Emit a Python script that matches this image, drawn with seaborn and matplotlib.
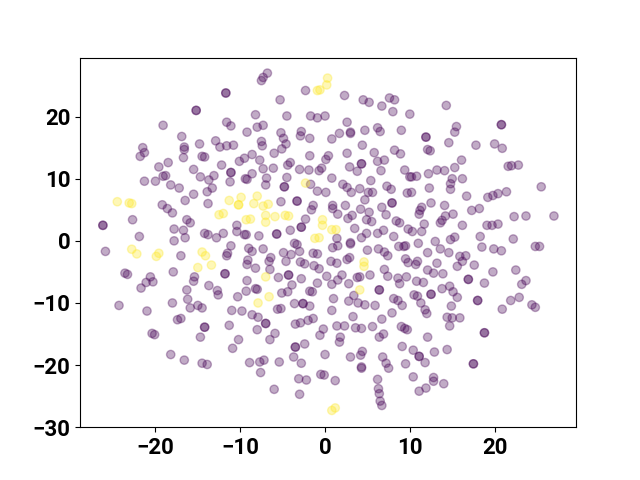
import matplotlib
matplotlib.use("Agg")
import matplotlib.pyplot as plt
import seaborn as sns

# points (t-SNE style embedding, two classes)
purple_pts = [
    (-19.1, 18.6), (-11.6, 19.1), (-11.1, 18.5), (-16.9, 16.8), (-12.9, 16.1), (-14.8, 15.6), (-12.4, 15.1),
    (-11.6, 15.3), (-10.8, 15.4), (-16.6, 15.1), (-16.6, 14.7), (-21.5, 15.0), (-21.3, 14.2), (-21.8, 13.6),
    (-16.7, 13.4), (-14.5, 13.6), (-14.2, 13.5), (-10.1, 12.8), (-12.2, 12.2), (-18.5, 12.6), (-19.6, 11.9),
    (-15.5, 11.5), (-19.1, 10.4), (-18.8, 10.5), (-14.7, 10.3), (-13.1, 10.5), (-13.7, 9.8), (-21.3, 9.6),
    (-20.0, 9.6), (-18.2, 9.0), (-17.2, 8.5), (-11.2, 9.5), (-13.3, 8.5), (-13.9, 7.9), (-15.5, 7.5),
    (-16.5, 6.5), (-13.8, 6.0), (-19.2, 5.8), (-18.6, 5.2), (-18.0, 4.5), (-22.7, 3.4), (-16.3, 3.4),
    (-15.9, 2.9), (-17.8, 1.9), (-16.7, 1.7), (-21.9, 0.7), (-17.8, 0.0), (-16.5, 0.5), (-14.2, 1.2),
    (-13.8, 1.0), (-12.8, 0.5), (-12.0, 1.2), (-10.4, 2.5), (-10.4, 1.5),
    (-6.8, 27.0), (-7.3, 26.3), (-7.5, 25.8), (-2.3, 24.2), (2.3, 23.4), (-5.3, 22.7), (4.5, 22.7), (5.2, 22.3),
    (7.6, 23.0), (8.2, 22.7), (6.7, 21.7), (8.0, 20.8), (-8.2, 20.3), (-4.5, 20.1), (-1.7, 20.1), (-0.9, 19.8),
    (0.0, 20.1), (2.6, 19.1), (10.0, 20.4), (-8.0, 18.3), (-7.3, 18.6), (-9.2, 17.5), (-5.2, 17.4), (-2.8, 17.6),
    (-2.9, 16.9), (3.0, 17.5), (3.0, 17.3), (4.7, 17.8), (6.2, 18.2), (6.5, 17.6), (9.0, 17.8), (1.7, 17.3),
    (0.8, 16.4), (-1.8, 16.5), (-4.9, 16.5), (-7.5, 16.0), (-7.4, 15.3), (-4.6, 15.6), (-5.1, 14.8), (4.4, 15.4),
    (-6.0, 14.1), (-8.6, 13.9), (2.6, 14.1), (5.8, 14.2), (8.2, 14.6), (8.9, 14.0), (-9.5, 13.3), (-7.7, 13.0),
    (-1.8, 13.7), (0.4, 13.7), (0.1, 13.1), (-4.1, 12.6), (-4.4, 12.2), (7.0, 13.0), (6.2, 12.8), (-7.3, 11.6),
    (-6.1, 11.7), (-3.0, 11.5), (-1.9, 11.4), (-0.4, 11.7), (-0.7, 11.3), (2.9, 11.9), (3.8, 11.2), (6.6, 11.3),
    (9.4, 11.4), (-8.6, 10.8), (-9.4, 10.0), (-9.2, 9.9), (-6.9, 10.1), (-4.5, 10.2), (0.8, 10.1), (-7.0, 9.0),
    (5.4, 9.7), (10.0, 10.3), (-1.7, 9.1), (2.1, 9.1), (2.6, 8.6), (3.1, 7.8), (4.1, 8.4), (-0.9, 8.0), (0.1, 7.8),
    (7.3, 8.8), (7.8, 8.3), (5.1, 7.8), (5.6, 7.8), (9.7, 7.7), (4.7, 6.6), (-5.2, 6.3), (-1.4, 5.7), (-1.6, 5.0),
    (0.9, 5.7), (0.9, 5.2), (2.4, 5.7), (6.7, 5.4), (4.2, 5.1), (5.2, 4.6), (1.5, 4.3), (7.2, 4.2), (3.2, 4.1),
    (2.7, 3.6), (-2.3, 3.5), (4.9, 3.4), (5.5, 3.1), (8.4, 3.2), (8.8, 2.9), (9.8, 1.9), (3.5, 2.0), (-4.1, 1.7),
    (-7.8, 0.8), (-9.5, 1.0), (-9.3, 1.0), (4.9, 1.2), (4.3, 0.5), (6.2, 1.2), (6.9, 1.7), (8.1, 0.7), (1.4, 0.4),
    (3.0, -0.3),
    (14.3, 21.8), (15.5, 18.4), (15.3, 17.5), (14.6, 15.8), (17.8, 15.4), (20.0, 15.6), (20.9, 14.9), (12.1, 14.7),
    (12.4, 14.5), (16.1, 13.0), (15.3, 11.8), (13.2, 11.4), (14.1, 11.3), (12.2, 10.8), (10.2, 10.3), (10.8, 10.4),
    (21.6, 12.0), (22.0, 12.1), (22.8, 12.2), (15.0, 10.0), (16.2, 10.0), (14.8, 9.2), (14.8, 8.3), (12.3, 8.5),
    (10.2, 7.8), (25.5, 8.7), (16.7, 7.2), (21.4, 7.9), (20.4, 7.6), (19.8, 7.3), (19.2, 7.0), (12.5, 6.1),
    (14.1, 5.7), (11.4, 5.4), (11.2, 4.9), (11.1, 4.3), (18.2, 5.2), (17.3, 4.9), (15.1, 4.3), (14.2, 4.0),
    (13.8, 3.3), (13.6, 2.9), (11.7, 2.7), (22.3, 3.9), (23.7, 4.0), (27.0, 4.0), (16.2, 2.5), (19.1, 2.5),
    (19.7, 2.5), (20.4, 2.7), (10.3, 1.5), (11.4, 1.5), (15.3, 0.6), (14.8, 0.2), (18.3, 0.7), (22.2, 0.3),
    (13.0, -0.1), (11.0, -0.4),
    (-25.9, -1.7), (-17.0, -2.4), (-11.1, -0.8), (-11.5, -2.0), (-11.6, -2.4), (-17.9, -5.0), (-23.6, -5.2),
    (-23.3, -5.4), (-20.6, -5.8), (-20.3, -6.6), (-21.1, -6.7), (-21.7, -7.6), (-15.4, -5.8), (-15.5, -6.5),
    (-13.7, -7.2), (-16.3, -7.9), (-12.7, -8.0), (-12.6, -8.7), (-10.3, -9.0), (-18.0, -10.0), (-16.2, -9.4),
    (-15.0, -10.4), (-14.5, -10.8), (-15.9, -10.8), (-24.3, -10.4), (-21.0, -11.3), (-11.0, -11.2), (-9.8, -11.3),
    (-17.0, -12.5), (-17.4, -12.7), (-11.3, -13.6), (-20.4, -14.9), (-20.1, -15.1), (-14.7, -15.5), (-10.2, -15.9),
    (-10.9, -17.3), (-18.2, -18.3), (-16.6, -19.2), (-14.5, -19.7), (-13.9, -19.9),
    (-3.6, -0.4), (-3.3, -0.6), (-9.0, -1.2), (-8.6, -1.7), (-7.3, -1.3), (-4.9, -1.9), (-4.0, -2.2), (-3.0, -1.7),
    (-9.1, -3.1), (-9.2, -3.8), (-8.2, -4.4), (-6.4, -2.7), (-6.6, -3.3), (-6.5, -4.6), (-4.6, -3.3), (-1.4, -2.0),
    (-0.9, -2.1), (-2.9, -3.4), (-2.4, -3.7), (-1.3, -4.0), (-0.7, -4.5), (0.7, -3.3), (1.4, -3.6), (0.9, -1.1),
    (1.5, -0.8), (3.0, -0.5), (5.0, -1.5), (6.3, -1.3), (7.0, -1.8), (7.4, -2.4), (2.6, -3.0), (2.9, -2.7),
    (8.7, -0.9), (9.3, -0.9), (9.5, -0.8), (9.5, -2.9), (9.8, -3.5), (7.0, -4.6), (7.4, -5.7), (5.3, -5.5),
    (4.1, -5.8), (3.8, -5.9), (2.0, -5.5), (1.5, -6.3), (0.2, -5.7), (0.8, -7.0), (2.8, -6.9), (-0.9, -6.8),
    (-2.8, -6.1), (-5.5, -5.9), (-9.2, -6.4), (-3.9, -7.1), (-4.4, -8.2), (-5.1, -8.4), (-9.3, -8.1), (-8.2, -7.7),
    (-8.0, -7.8), (-1.8, -8.1), (-1.5, -8.2), (8.6, -6.0), (8.8, -6.9), (9.6, -5.8), (3.4, -8.8), (1.0, -9.3),
    (2.8, -9.7), (3.9, -10.0), (4.7, -10.3), (5.9, -10.4), (8.1, -9.3), (8.6, -9.6), (9.1, -10.4), (-3.6, -10.1),
    (-1.8, -10.5), (0.8, -11.2), (-5.6, -11.0), (-5.2, -10.9), (-8.6, -11.9), (-7.9, -12.3), (-8.0, -14.3),
    (-5.9, -14.9), (-6.5, -15.9), (-3.5, -13.4), (-2.9, -13.2), (-2.0, -12.8), (-1.4, -12.5), (3.3, -12.2),
    (6.7, -12.6), (7.9, -11.6), (-0.2, -14.2), (-0.6, -15.2), (1.4, -13.7), (2.3, -13.7), (3.6, -14.0), (4.3, -14.1),
    (5.6, -13.8), (9.0, -13.8), (9.4, -14.1), (9.7, -14.3), (6.9, -15.0), (6.4, -15.5), (1.8, -15.5), (1.7, -16.3),
    (-2.4, -16.6), (9.1, -17.0), (-3.7, -18.7), (0.0, -18.3), (3.0, -18.7), (4.4, -17.8), (4.2, -18.4), (6.8, -18.7),
    (7.2, -19.7), (7.5, -20.5), (9.5, -19.8), (-8.9, -19.6), (-7.7, -19.5), (-7.2, -19.2), (-5.4, -19.5), (-2.8, -19.7),
    (-7.6, -21.2), (4.3, -20.3), (4.3, -20.5), (-0.5, -21.5), (-0.1, -21.6), (-3.1, -22.2), (-2.2, -22.4), (1.2, -22.5),
    (6.2, -22.3), (6.3, -23.8), (6.4, -24.6), (6.5, -25.8), (6.7, -26.5), (-6.0, -23.9), (-3.0, -24.7),
    (12.1, -1.9), (13.6, -1.3), (14.6, -1.9), (18.5, -1.0), (19.9, -1.3), (20.8, -1.6), (24.8, -0.9), (25.3, -0.9),
    (15.9, -2.5), (16.6, -2.4), (16.2, -3.3), (15.6, -4.1), (17.6, -3.9), (13.2, -3.6), (10.9, -3.3), (10.7, -3.8),
    (12.1, -4.7), (12.8, -5.2), (13.9, -5.3), (10.8, -6.5), (11.6, -6.7), (19.8, -5.0), (22.5, -4.7), (23.7, -6.4),
    (23.2, -7.0), (18.8, -6.8), (14.7, -7.3), (13.8, -7.7), (15.1, -8.2), (15.6, -9.1), (10.5, -8.7), (10.9, -8.9),
    (11.3, -10.0), (22.9, -9.1), (21.9, -9.6), (20.9, -11.0), (24.4, -10.3), (24.8, -10.7), (14.9, -10.5), (11.8, -11.1),
    (12.0, -11.7), (14.4, -12.3), (15.0, -12.4), (15.9, -12.4), (14.7, -13.7), (12.1, -15.5), (10.4, -17.6),
    (12.9, -17.9), (14.4, -17.5), (11.8, -19.6), (10.4, -21.9), (12.8, -22.0), (12.8, -22.6), (14.0, -23.0),
    (11.9, -23.7), (11.1, -24.2),
]

# darker dots in the picture, two points lying on top of each other
dark_pts = [
    (-11.7, 23.8), (-15.2, 21.0), (-11.1, 11.0), (-26.2, 2.5), (-4.8, 8.7), (4.3, 12.4), (-3.3, 6.4), (7.9, 6.1),
    (-2.8, 2.2), (-5.7, 1.1), (20.8, 18.7), (11.9, 16.7), (-11.8, -5.3), (-14.2, -13.9), (-4.3, -5.5), (6.4, -7.9),
    (-2.6, -10.1), (-7.0, -13.3), (-3.5, -17.1), (16.9, -6.2), (12.5, -8.6), (18.0, -9.6), (18.8, -14.8), (11.1, -18.6),
    (17.5, -19.8),
]

yellow_pts = [
    (-24.5, 6.3), (-23.1, 6.1), (-22.8, 6.0), (-11.3, 6.5), (-9.9, 7.0), (-10.2, 5.8), (-10.2, 5.8), (-12.5, 4.2),
    (-12.0, 4.4), (0.3, 26.2), (0.2, 25.1), (-0.6, 24.3), (-0.9, 24.2), (-2.3, 9.3), (-8.0, 7.2), (-8.4, 6.0),
    (-7.3, 5.6), (-6.7, 5.9), (-9.3, 3.4), (-8.8, 3.5), (-7.0, 4.1), (-7.0, 3.0), (-5.9, 3.9), (-4.7, 4.1),
    (-4.3, 4.0), (-0.3, 3.4), (-0.3, 2.5), (0.8, 1.8), (1.3, 1.8), (-1.2, 0.4), (-0.7, 0.5),
    (-22.8, -1.35), (-22.2, -2.1), (-19.6, -2.0), (-19.9, -2.5), (-14.5, -1.8), (-14.1, -2.4), (-15.0, -4.3),
    (-13.4, -3.9), (4.6, -3.4), (4.6, -4.1), (-7.0, -5.8), (-6.6, -9.0), (-7.9, -10.0), (4.1, -7.9),
    (1.2, -26.9), (0.8, -27.3),
]

tick_x = [-20, -10, 0, 10, 20]
tick_y = [-30, -20, -10, 0, 10, 20]

all_pts = purple_pts + dark_pts + dark_pts + yellow_pts
x = [p[0] for p in all_pts]
y = [p[1] for p in all_pts]
group = [0] * (len(purple_pts) + 2 * len(dark_pts)) + [1] * len(yellow_pts)

plt.rcParams['font.family'] = ['Roboto', 'DejaVu Sans']

fig, ax = plt.subplots(figsize=(6.4, 4.8), dpi=100)
sns.scatterplot(x=x, y=y, hue=group, palette=['#440154', '#fde725'], s=36, alpha=0.33,
                edgecolor='face', linewidth=1.0, legend=False, ax=ax)
ax.set_xlim(-28.9, 29.6)
ax.set_ylim(-30.0, 29.5)
ax.set_xticks(tick_x)
ax.set_yticks(tick_y)
ax.tick_params(labelsize=16)
for lab in ax.get_xticklabels() + ax.get_yticklabels():
    lab.set_fontweight('bold')

fig.savefig("out.png", dpi=100)
